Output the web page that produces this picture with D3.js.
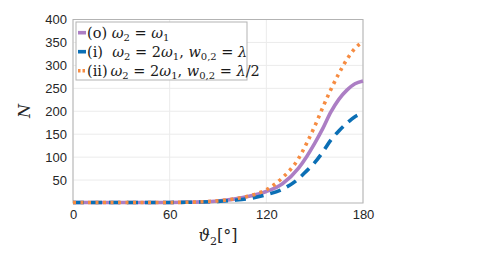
<!DOCTYPE html>
<html>
<head>
<meta charset="utf-8">
<script src="https://cdn.jsdelivr.net/npm/d3@7"></script>
<style>
  body { margin: 0; background: #fff; }
  .tick text { font-family: "Liberation Sans", Arial, sans-serif; font-size: 13px; fill: #262626; }
</style>
</head>
<body>
<div id="chart"></div>
<script>
// angles in degrees
var theta = [0, 10, 20, 30, 40, 50, 60, 70, 80, 90, 100, 110, 120, 130, 140, 145, 150, 155, 160, 165, 170, 175, 180];
var caseO = [1, 1, 1, 1, 1, 1, 1.2, 1.6, 2.5, 4.5, 8.5, 15, 25, 42, 76, 101, 130, 162, 198, 226, 246, 260, 266];
var caseI = [1, 1, 1, 1, 1, 1, 1.2, 1.5, 2.3, 3.5, 6, 10, 18, 30, 53, 70, 88, 111, 137, 157, 174, 188, 196];
var caseII = [1, 1, 1, 1, 1, 1, 1.2, 1.6, 2.6, 4.7, 9, 16, 29, 55, 97, 130, 167, 208, 247, 282, 313, 337, 352];
var xTicks = [0, 60, 120, 180];
var yTicks = [50, 100, 150, 200, 250, 300, 350, 400];

var series = [
    { name: "o", values: caseO, color: "#ac7ec4", dash: null },
    { name: "i", values: caseI, color: "#0b6fb5", dash: "11,7" },
    { name: "ii", values: caseII, color: "#f68c42", dash: "3,4.5" }
];

function drawChart() {
    const width = 482;
    const height = 263;
    const left = 73, right = 363, top = 19.5, bottom = 203;

    const xScale = d3.scaleLinear().domain([0, 180]).range([left, right]);
    const yScale = d3.scaleLinear().domain([0, 400]).range([bottom, top]);

    var svg = d3.select("#chart")
        .append("svg")
        .attr("width", width)
        .attr("height", height);

    // grid
    svg.append("g").selectAll("line")
        .data(xTicks)
        .enter()
        .append("line")
        .attr("x1", d => xScale(d)).attr("x2", d => xScale(d))
        .attr("y1", top).attr("y2", bottom)
        .attr("stroke", "#ebebeb");
    svg.append("g").selectAll("line")
        .data(yTicks)
        .enter()
        .append("line")
        .attr("x1", left).attr("x2", right)
        .attr("y1", d => yScale(d)).attr("y2", d => yScale(d))
        .attr("stroke", "#ebebeb");

    // axes
    var xAxis = d3.axisBottom(xScale).tickValues(xTicks).tickSize(0).tickPadding(7);
    var yAxis = d3.axisLeft(yScale).tickValues(yTicks).tickSize(0).tickPadding(6);
    var gx = svg.append("g").attr("transform", "translate(0," + bottom + ")").call(xAxis);
    var gy = svg.append("g").attr("transform", "translate(" + left + ",0)").call(yAxis);
    gx.select(".domain").remove();
    gy.select(".domain").remove();

    svg.append("rect")
        .attr("x", left).attr("y", top)
        .attr("width", right - left).attr("height", bottom - top)
        .attr("fill", "none").attr("stroke", "#b3b3b3").attr("stroke-width", 1);

    // curves
    var line = d3.line()
        .x((d, i) => xScale(theta[i]))
        .y(d => yScale(d))
        .curve(d3.curveMonotoneX);

    svg.append("g").selectAll("path")
        .data(series)
        .enter()
        .append("path")
        .attr("d", s => line(s.values))
        .attr("fill", "none")
        .attr("stroke", s => s.color)
        .attr("stroke-width", 3.6)
        .attr("stroke-dasharray", s => s.dash);

    // axis labels
    svg.append("text")
        .attr("transform", "translate(30,111) rotate(-90)")
        .attr("text-anchor", "middle")
        .style("font-family", "'DejaVu Serif', serif")
        .style("font-style", "italic")
        .style("font-size", "16px")
        .attr("fill", "#262626")
        .text("N");

    var xl = svg.append("text")
        .attr("x", 218).attr("y", 241)
        .attr("text-anchor", "middle")
        .style("font-family", "'DejaVu Serif', serif")
        .style("font-size", "16px")
        .attr("fill", "#262626");
    xl.append("tspan").style("font-style", "italic").text("ϑ");
    xl.append("tspan").attr("dy", 4).style("font-size", "11px").text("2");
    xl.append("tspan").attr("dy", -4).text("[°]");

    // legend
    var legend = svg.append("g");
    legend.append("rect")
        .attr("x", 76).attr("y", 22)
        .attr("width", 171).attr("height", 58)
        .attr("fill", "#fff").attr("stroke", "#b3b3b3");

    var labels = [
        [["(o) ", ""], ["ω", "i"], ["2", "s"], [" = ", ""], ["ω", "i"], ["1", "s"]],
        [["(i)  ", ""], ["ω", "i"], ["2", "s"], [" = 2", ""], ["ω", "i"], ["1", "s"], [", ", ""], ["w", "i"], ["0,2", "s"], [" = ", ""], ["λ", "i"]],
        [["(ii)\u2009", ""], ["ω", "i"], ["2", "s"], [" = 2", ""], ["ω", "i"], ["1", "s"], [", ", ""], ["w", "i"], ["0,2", "s"], [" = ", ""], ["λ", "i"], ["/2", ""]]
    ];

    series.forEach(function(s, k) {
        var y = 32.7 + k * 19;
        legend.append("line")
            .attr("x1", 78).attr("x2", 86)
            .attr("y1", y).attr("y2", y)
            .attr("stroke", s.color).attr("stroke-width", 3.6)
            .attr("stroke-dasharray", k == 2 ? "2.5,2" : null);
        var t = legend.append("text")
            .attr("x", 87).attr("y", y + 5)
            .attr("xml:space", "preserve")
            .style("font-family", "'DejaVu Serif', serif")
            .style("font-size", "14.5px")
            .attr("fill", "#1a1a1a");
        var sub = false;
        labels[k].forEach(function(p) {
            var ts = t.append("tspan").text(p[0]);
            if (p[1] == "i") ts.style("font-style", "italic");
            if (p[1] == "s") {
                ts.style("font-size", "10px");
                if (!sub) ts.attr("dy", 3);
                sub = true;
            } else if (sub) {
                ts.attr("dy", -3);
                sub = false;
            }
        });
    });
}

drawChart();
</script>
</body>
</html>
